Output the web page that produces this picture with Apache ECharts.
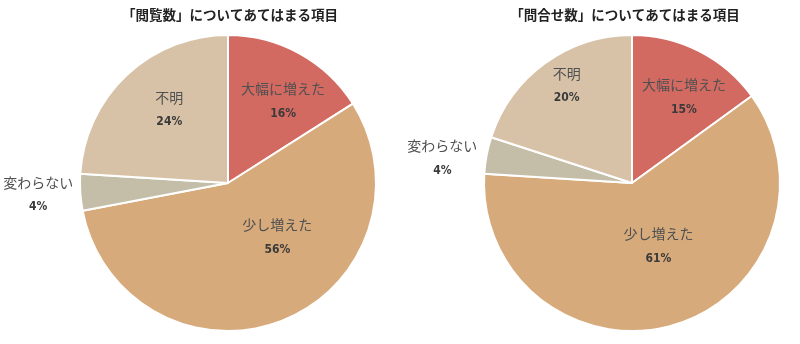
<!DOCTYPE html>
<html><head><meta charset="utf-8">
<script src="https://cdn.jsdelivr.net/npm/echarts@6/dist/echarts.min.js"></script>
<style>html,body{margin:0;padding:0;background:#fff}#c{width:800px;height:344px}</style>
</head><body><div id="c"></div>
<script>
var categories = ['大幅に増えた', '少し増えた', '変わらない', '不明'];
var viewValues = [16, 56, 4, 24];
var inquiryValues = [15, 61, 4, 20];
var titles = ['「閲覧数」についてあてはまる項目', '「問合せ数」についてあてはまる項目'];
var colors = ['#d36a62', '#d7aa7b', '#c4bea9', '#d7c2a7'];

var leftShift = [[18, -14], [21, -17], [-113, 7], [-6, -17]];
var rightShift = [[17, -17], [5, -11], [-114, -10], [-20, -35]];

function mk(values, center, shift) {
  return {
    type: 'pie',
    center: center,
    radius: 148,
    startAngle: 90,
    clockwise: true,
    animation: false,
    data: categories.map(function (n, i) {
      return { name: n, value: values[i], itemStyle: { color: colors[i] } };
    }),
    itemStyle: { borderColor: '#fff', borderWidth: 2 },
    label: {
      show: true,
      position: 'inside',
      formatter: function (p) { return '{n|' + p.name + '}\n{v|' + p.value + '%}'; },
      rich: {
        n: { fontSize: 14, color: '#505050', fontFamily: 'Noto Sans CJK JP', lineHeight: 25 },
        v: { fontSize: 12, color: '#3a3a3a', fontWeight: 'bold', fontFamily: 'DejaVu Sans Condensed, Roboto', lineHeight: 25 }
      }
    },
    labelLine: { show: false },
    labelLayout: function (p) {
      var s = shift[p.dataIndex];
      return { dx: s[0], dy: s[1] };
    },
    emphasis: { disabled: true }
  };
}

var chart = echarts.init(document.getElementById('c'));
chart.setOption({
  backgroundColor: '#fff',
  title: [
    { text: titles[0], left: 225, top: 3, textAlign: 'center',
      textStyle: { fontSize: 13.5, fontWeight: 'bold', color: '#222', fontFamily: 'Noto Sans CJK JP' } },
    { text: titles[1], left: 620, top: 3, textAlign: 'center',
      textStyle: { fontSize: 13.5, fontWeight: 'bold', color: '#222', fontFamily: 'Noto Sans CJK JP' } }
  ],
  series: [
    mk(viewValues, [228, 183], leftShift),
    mk(inquiryValues, [632, 183], rightShift)
  ]
});
</script></body></html>
